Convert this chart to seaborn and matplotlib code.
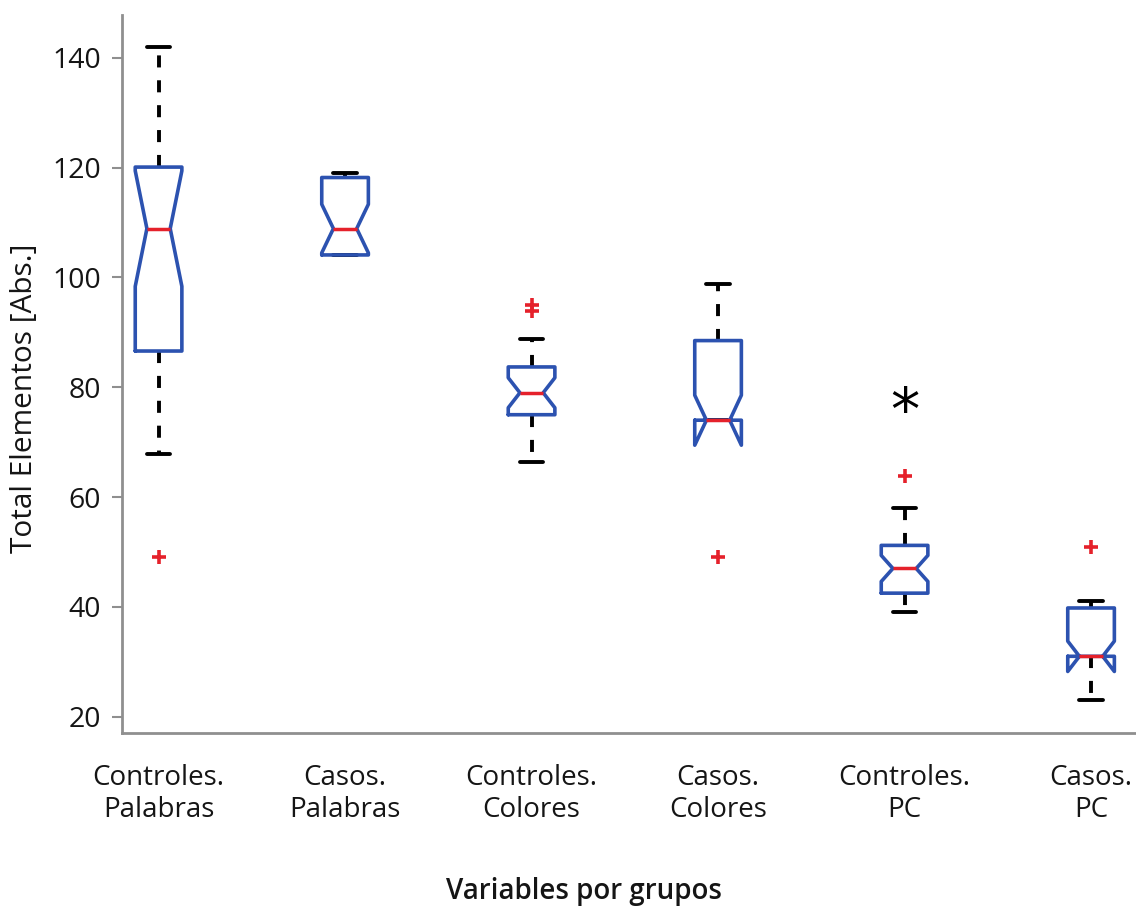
import numpy as np
import pandas as pd
import matplotlib
matplotlib.use("Agg")
import matplotlib.pyplot as plt
import seaborn as sns

# Box summary values (y units = Total Elementos)
GROUPS = ["Controles.\nPalabras", "Casos.\nPalabras", "Controles.\nColores",
          "Casos.\nColores", "Controles.\nPC", "Casos.\nPC"]
WHISKER_LOW = [67.9, 104.1, 66.4, 74.0, 39.1, 23.1]
Q1 = [86.6, 104.1, 75.0, 74.0, 42.5, 31.0]
MEDIAN = [108.9, 108.9, 79.0, 74.0, 47.0, 31.0]
Q3 = [120.1, 118.2, 83.7, 88.5, 51.2, 39.8]
WHISKER_HIGH = [141.9, 119.0, 88.8, 98.8, 58.0, 41.0]
FLIERS_LOW = [[49.0], [], [], [49.0], [], []]
FLIERS_HIGH = [[], [], [93.9, 95.0], [], [63.9], [50.9]]
N_OBS = [25, 25, 25, 25, 33, 25]   # sets notch depth (median +/- 1.57 IQR / sqrt(n))

SIGNIF_GROUP = "Controles.\nPC"
SIGNIF_Y = 77.2

YTICKS = [20, 40, 60, 80, 100, 120, 140]

BLUE = "#2c52b0"
RED = "#e5212b"
GREY = "#8f8f8f"
TEXT = "#151515"


def build_sample(lo, q1, med, q3, hi, fl_lo, fl_hi, n):
    # rebuild a sample of size n = 4k+1 whose quartiles/whiskers match the read values
    k = (n - 1) // 4
    vals = list(fl_lo) + [lo] + [q1] * (k - len(fl_lo)) + [med] * k
    vals += [q3] * (2 * k - 1 - len(fl_hi)) + [hi] + list(fl_hi)
    return vals


rows = []
for i, g in enumerate(GROUPS):
    s = build_sample(WHISKER_LOW[i], Q1[i], MEDIAN[i], Q3[i], WHISKER_HIGH[i],
                     FLIERS_LOW[i], FLIERS_HIGH[i], N_OBS[i])
    rows += [{"grupo": g, "valor": v} for v in s]
df = pd.DataFrame(rows)

sns.set_theme(style="white")
plt.rcParams["font.family"] = ["Open Sans", "DejaVu Sans"]

fig = plt.figure(figsize=(11.36, 9.08), dpi=100)
ax = fig.add_axes([122 / 1136, 1 - 733 / 908, 1 - 122 / 1136, (733 - 15) / 908])

sns.boxplot(data=df, x="grupo", y="valor", order=GROUPS, ax=ax,
            width=0.25, whis=1.0, fill=False, color=BLUE, linewidth=2.5,
            notch=True,
            boxprops=dict(color=BLUE, linewidth=2.6, zorder=3),
            medianprops=dict(color=RED, linewidth=2.5, zorder=4),
            whiskerprops=dict(color="black", linewidth=2.8, linestyle=(0, (3.1, 3.3))),
            capprops=dict(color="black", linewidth=2.8),
            flierprops=dict(marker="+", markeredgecolor=RED, markerfacecolor=RED,
                            markersize=10, markeredgewidth=2.6))

# significance mark above Controles. PC
ax.annotate("*", xy=(GROUPS.index(SIGNIF_GROUP), SIGNIF_Y), xytext=(0, -8),
            textcoords="offset points", fontsize=42, ha="center", va="center",
            color="black", family="DejaVu Sans")

ax.set_xlim(-0.196, 5.241)
ax.set_ylim(17.03, 147.8)
ax.set_yticks(YTICKS)
ax.set_yticklabels([str(t) for t in YTICKS], fontsize=20.5)
ax.tick_params(axis="y", direction="out", length=7, width=1.5, color=GREY,
               left=True, pad=8, labelcolor=TEXT)
ax.tick_params(axis="x", length=0, pad=22, labelsize=20, labelcolor=TEXT)

for side in ["top", "right"]:
    ax.spines[side].set_visible(False)
for side in ["left", "bottom"]:
    ax.spines[side].set_color(GREY)
    ax.spines[side].set_linewidth(2)

ax.set_ylabel("Total Elementos [Abs.]", fontsize=21.5, color=TEXT)
ax.yaxis.set_label_coords(-0.0957, (733 - 398) / 718)
ax.yaxis.label.set_va("center")
ax.set_xlabel("Variables por grupos", fontsize=20, fontweight="semibold",
              color=TEXT)
ax.xaxis.set_label_coords((584 - 122) / 1014, (733 - 892) / 718)
ax.xaxis.label.set_va("center")

fig.savefig("out.png", dpi=100)
